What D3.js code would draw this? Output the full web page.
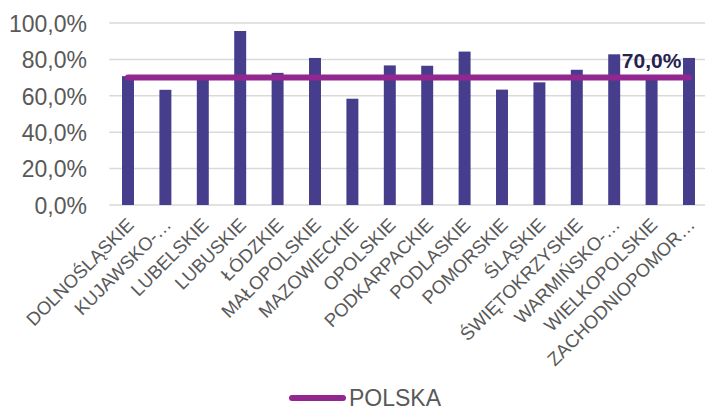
<!DOCTYPE html>
<html>
<head>
<meta charset="utf-8">
<script src="https://cdn.jsdelivr.net/npm/d3@7/dist/d3.min.js"></script>
<style>
  html, body { margin: 0; padding: 0; background: #ffffff; }
  svg { display: block; font-family: "Liberation Sans", Arial, sans-serif; }
</style>
</head>
<body>
<svg id="chart" width="705" height="407"></svg>
<script>
// Voivodeship names as printed under the bars
const categories = [
  "DOLNOŚLĄSKIE", "KUJAWSKO-…", "LUBELSKIE", "LUBUSKIE", "ŁÓDZKIE",
  "MAŁOPOLSKIE", "MAZOWIECKIE", "OPOLSKIE", "PODKARPACKIE", "PODLASKIE",
  "POMORSKIE", "ŚLĄSKIE", "ŚWIĘTOKRZYSKIE", "WARMIŃSKO-…", "WIELKOPOLSKIE",
  "ZACHODNIOPOMOR…"
];
// Share per voivodeship, in percent
const regionValues = [70.8, 63.3, 70.4, 95.6, 72.6, 80.8, 58.4, 76.7, 76.5, 84.3, 63.4, 67.4, 74.3, 82.8, 70.6, 80.8];
// National level (POLSKA), the same for every category
const polskaValues = [70, 70, 70, 70, 70, 70, 70, 70, 70, 70, 70, 70, 70, 70, 70, 70];
const yTicks = [0, 20, 40, 60, 80, 100];
const seriesName = "POLSKA";
const labelIndex = 14;

const svg = d3.select("#chart");
const plot = { left: 109.3, right: 707.7, top: 23, bottom: 205 };

const x = d3.scaleBand()
  .domain(categories)
  .range([plot.left, plot.right])
  .paddingInner(0.68)
  .paddingOuter(0.34);

const y = d3.scaleLinear().domain([0, 100]).range([plot.bottom, plot.top]);

const fmt = v => d3.format(".1f")(v).replace(".", ",") + "%";

// Horizontal gridlines
svg.append("g")
  .selectAll("line")
  .data(yTicks)
  .join("line")
  .attr("x1", plot.left)
  .attr("x2", 705)
  .attr("y1", d => y(d))
  .attr("y2", d => y(d))
  .attr("stroke", "#d9d9d9")
  .attr("stroke-width", 1.5);

// Y axis labels
const yAxis = d3.axisLeft(y).tickValues(yTicks).tickFormat(fmt).tickSize(0).tickPadding(0);
const gy = svg.append("g").attr("transform", `translate(87,0)`).call(yAxis);
gy.select(".domain").remove();
gy.selectAll("text")
  .attr("fill", "#595959")
  .attr("font-size", "23px")
  .attr("dy", "0.36em")
  .style("font-family", "'Liberation Sans', Arial, sans-serif");

// Bars
svg.append("g")
  .selectAll("rect")
  .data(regionValues)
  .join("rect")
  .attr("x", (d, i) => x(categories[i]))
  .attr("width", x.bandwidth())
  .attr("y", d => y(d))
  .attr("height", d => y(0) - y(d))
  .attr("fill", "#463e8c");

// Category labels, rotated
const xAxis = d3.axisBottom(x).tickSize(0).tickPadding(0);
const gx = svg.append("g").attr("transform", `translate(0,${plot.bottom})`).call(xAxis);
gx.select(".domain").remove();
gx.selectAll("text")
  .attr("fill", "#595959")
  .attr("font-size", "18.5px")
  .attr("text-anchor", "end")
  .attr("dy", null)
  .attr("y", null)
  .attr("transform", "translate(7,21) rotate(-45)")
  .style("font-family", "'Liberation Sans', Arial, sans-serif");

// National level line
const line = d3.line()
  .x((d, i) => x(categories[i]) + x.bandwidth() / 2)
  .y(d => y(d));

svg.append("path")
  .datum(polskaValues)
  .attr("d", line)
  .attr("fill", "none")
  .attr("stroke", "#92278f")
  .attr("stroke-width", 6)
  .attr("stroke-linecap", "round");

// Value label on the line
svg.append("text")
  .attr("x", x(categories[labelIndex]) + x.bandwidth() / 2)
  .attr("y", y(polskaValues[labelIndex]) - 10)
  .attr("text-anchor", "middle")
  .attr("font-size", "21px")
  .attr("font-weight", "bold")
  .attr("fill", "#262250")
  .text(fmt(polskaValues[labelIndex]));

// Legend
const legend = svg.append("g");
legend.append("line")
  .attr("x1", 292).attr("x2", 343)
  .attr("y1", 398).attr("y2", 398)
  .attr("stroke", "#92278f")
  .attr("stroke-width", 6)
  .attr("stroke-linecap", "round");
legend.append("text")
  .attr("x", 349)
  .attr("y", 406)
  .attr("font-size", "23px")
  .attr("fill", "#595959")
  .text(seriesName);
</script>
</body>
</html>
